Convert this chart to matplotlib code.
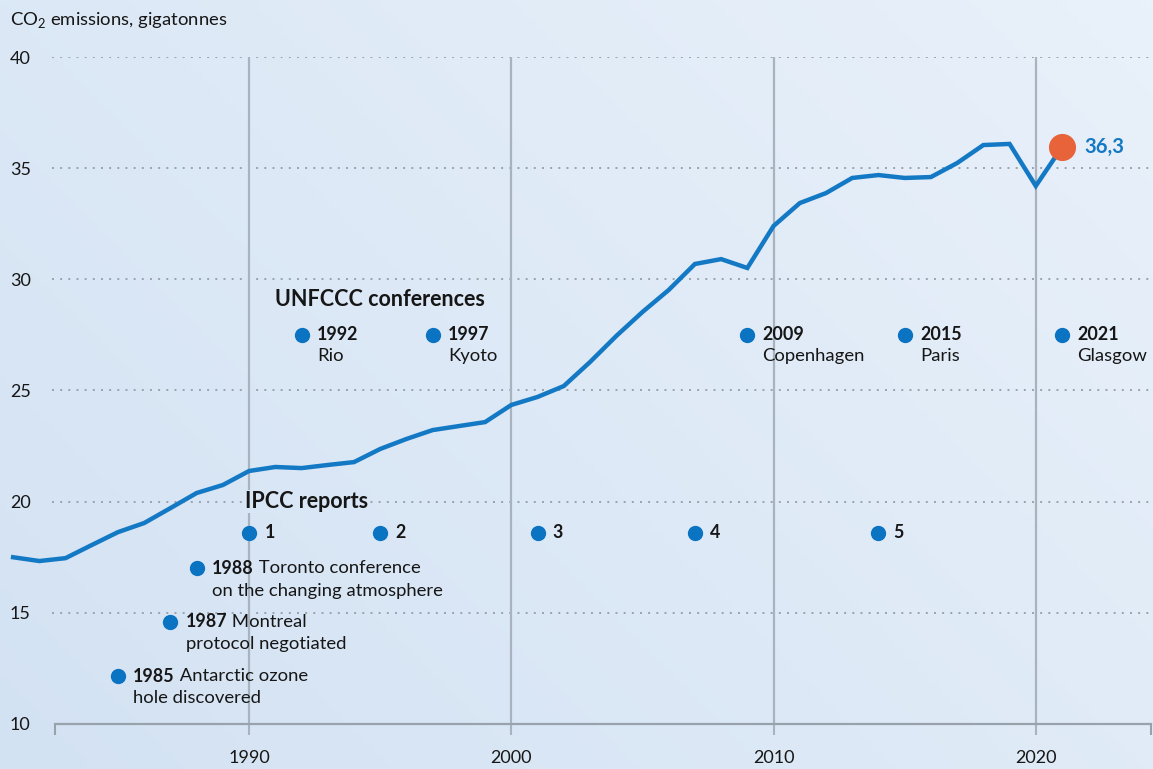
# CO2 emissions with climate milestones
import numpy as np
import matplotlib.pyplot as plt
from matplotlib.colors import LinearSegmentedColormap

plt.rcParams['font.family'] = ['Lato', 'DejaVu Sans']
plt.rcParams['mathtext.fontset'] = 'custom'
plt.rcParams['mathtext.rm'] = 'Lato'

# annual global CO2 emissions, gigatonnes
years = list(range(1981, 2022))
emissions = [17.5, 17.33, 17.46, 18.05, 18.63, 19.04, 19.71, 20.39, 20.75, 21.38,
             21.56, 21.51, 21.65, 21.78, 22.37, 22.82, 23.22, 23.4, 23.58, 24.35,
             24.71, 25.2, 26.28, 27.45, 28.53, 29.52, 30.69, 30.91, 30.51, 32.4,
             33.43, 33.88, 34.56, 34.69, 34.56, 34.6, 35.23, 36.04, 36.09, 34.2,
             35.95]
last_label = '36,3'

unfccc_years = [1992, 1997, 2009, 2015, 2021]
unfccc_places = ['Rio', 'Kyoto', 'Copenhagen', 'Paris', 'Glasgow']

ipcc_years = [1990, 1995, 2001, 2007, 2014]
ipcc_labels = ['1', '2', '3', '4', '5']

other_years = [1988, 1987, 1985]
other_first = ['Toronto conference', 'Montreal', 'Antarctic ozone']
other_second = ['on the changing atmosphere', 'protocol negotiated', 'hole discovered']
other_levels = [17.0, 14.6, 12.15]

blue = '#1479c4'
dot_blue = '#0a73c2'
orange = '#e8623a'
dark = '#161616'
grid_c = '#a9b3bf'
fs = 13.3
fs_bold = 12.9

fig = plt.figure(figsize=(11.53, 7.69), dpi=100)

# soft gradient background
bg = fig.add_axes([0, 0, 1, 1], zorder=-5)
gx, gy = np.meshgrid(np.linspace(0, 1, 200), np.linspace(0, 1, 200))
grad = 0.6 * gx + 0.4 * gy
cmap = LinearSegmentedColormap.from_list('bg', ['#d3e2f3', '#e9f1fa'])
bg.imshow(grad, cmap=cmap, origin='lower', aspect='auto', extent=[0, 1, 0, 1])
bg.axis('off')

ax = fig.add_axes([0, 45 / 769, 1, 667 / 769])
ax.patch.set_alpha(0)
ax.set_xlim(1980.5, 2024.47)
ax.set_ylim(10, 40)

for s in ['top', 'right', 'left']:
    ax.spines[s].set_visible(False)
ax.spines['bottom'].set_bounds(1982.6, 2024.4)
ax.spines['bottom'].set_color('#98a2ad')
ax.spines['bottom'].set_linewidth(1.6)

ax.set_xticks([1990, 2000, 2010, 2020])
ax.set_xticks([1982.6, 2024.4], minor=True)
ax.tick_params(axis='x', which='both', length=8, width=1.5, color=grid_c,
               labelsize=13, labelcolor=dark, pad=11)
ax.tick_params(axis='x', which='minor', color='#98a2ad')
ax.grid(axis='x', color=grid_c, linewidth=1.6, zorder=0)

yt = [15, 20, 25, 30, 35, 40]
ax.set_yticks([10] + yt)
ax.tick_params(axis='y', length=0, pad=-7, labelsize=13, labelcolor=dark)
for lab in ax.get_yticklabels():
    lab.set_horizontalalignment('left')
ax.hlines(yt, 1982.5, 2024.47, colors='#98a3ae', linewidth=1.4,
          linestyles=(0, (1, 3.2)), zorder=0)

ax.plot(years, emissions, color=blue, linewidth=3.2, solid_joinstyle='miter', zorder=3)
ax.plot(years[-1], emissions[-1], 'o', color=orange, markersize=18.5, zorder=4)
ax.annotate(last_label, (years[-1], emissions[-1]), xytext=(16, 0),
            textcoords='offset points', va='center', ha='left', fontsize=14.6,
            fontweight='bold', color=blue)

fig.text(10 / 1153, 1 - 20 / 769, r'CO$_2$ emissions, gigatonnes', fontsize=13.3,
         color=dark, va='center', ha='left')

# UNFCCC conferences
ax.text(1991.0, 29.1, 'UNFCCC conferences', fontsize=15.5, fontweight='bold',
        color=dark, va='center', ha='left')
ax.plot(unfccc_years, [27.5] * len(unfccc_years), 'o', color=dot_blue,
        markersize=10, zorder=4)
for yr, place in zip(unfccc_years, unfccc_places):
    ax.annotate(str(yr), (yr, 27.5), xytext=(11, 0), textcoords='offset points',
                va='center', ha='left', fontsize=fs_bold, fontweight='bold', color=dark)
    ax.annotate(place, (yr, 27.5), xytext=(11, -15), textcoords='offset points',
                va='center', ha='left', fontsize=fs, color=dark)

# IPCC reports
ipcc_title = ax.text(1989.85, 20.0, 'IPCC reports', fontsize=15.5, fontweight='bold',
                     color=dark, va='center', ha='left', zorder=2)
ipcc_title.set_bbox(dict(facecolor='#d9e6f5', edgecolor='none', pad=1))
ax.plot(ipcc_years, [18.6] * len(ipcc_years), 'o', color=dot_blue,
        markersize=10, zorder=4)
for yr, lab in zip(ipcc_years, ipcc_labels):
    ax.annotate(lab, (yr, 18.6), xytext=(11, 0), textcoords='offset points',
                va='center', ha='left', fontsize=fs_bold, fontweight='bold', color=dark)

# other milestones
ax.plot(other_years, other_levels, 'o', color=dot_blue, markersize=10, zorder=4)
for yr, lvl, t1, t2 in zip(other_years, other_levels, other_first, other_second):
    head = ax.annotate(str(yr), (yr, lvl), xytext=(11, 0), textcoords='offset points',
                       va='center', ha='left', fontsize=fs_bold, fontweight='bold',
                       color=dark)
    ax.annotate(' ' + t1, xy=(1, 0.5), xycoords=head, va='center', ha='left',
                fontsize=fs, color=dark)
    ax.annotate(t2, (yr, lvl), xytext=(11, -16), textcoords='offset points',
                va='center', ha='left', fontsize=fs, color=dark)

plt.savefig('out.png', dpi=100)
